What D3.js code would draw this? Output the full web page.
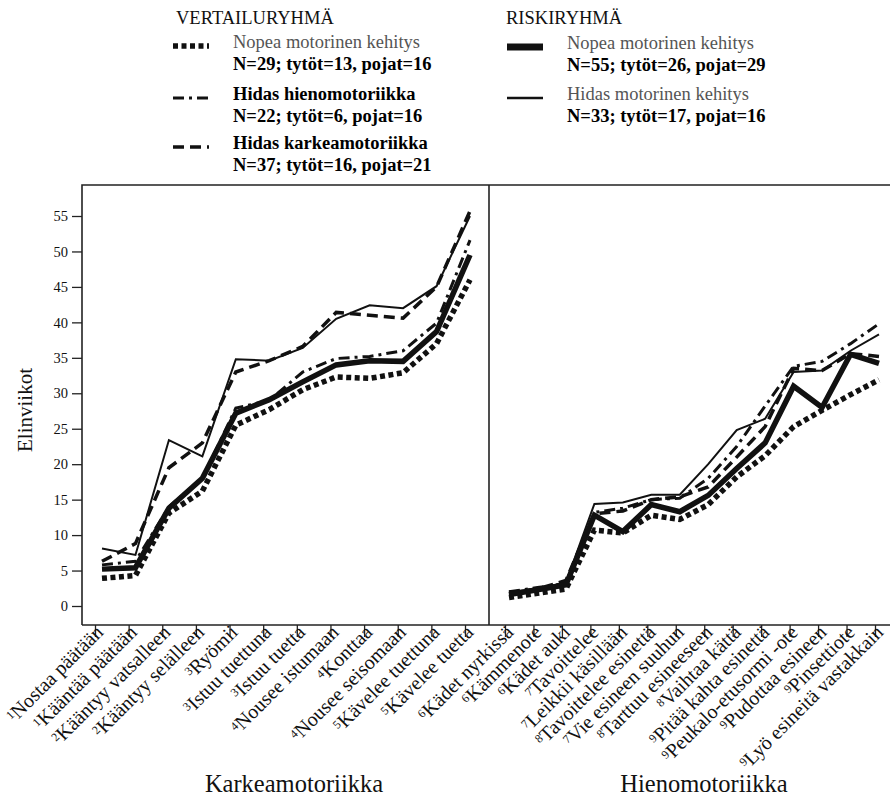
<!DOCTYPE html>
<html><head><meta charset="utf-8">
<script src="https://cdn.jsdelivr.net/npm/d3@7"></script>
<style>body{margin:0;background:#fff}svg text{font-family:"Liberation Serif","DejaVu Serif",serif;fill:#111}</style>
</head><body><svg id="c" width="890" height="800"></svg>
<script>
// ---- data ----
const grossSup = ["1","1","2","2","3","3","3","4","4","4","5","5"];
const grossCats = ["Nostaa päätään","Kääntää päätään","Kääntyy vatsalleen","Kääntyy selälleen","Ryömii","Istuu tuettuna","Istuu tuetta","Nousee istumaan","Konttaa","Nousee seisomaan","Kävelee tuettuna","Kävelee tuetta"];
const fineSup = ["6","6","6","7","7","8","7","8","8","9","9","9","9","9"];
const fineCats = ["Kädet nyrkissä","Kämmenote","Kädet auki","Tavoittelee","Leikkii käsillään","Tavoittelee esinettä","Vie esineen suuhun","Tarttuu esineeseen","Vaihtaa kättä","Pitää kahta esinettä","Peukalo-etusormi -ote","Pudottaa esineen","Pinsettiote","Lyö esineitä vastakkain"];
const yTicks = [0,5,10,15,20,25,30,35,40,45,50,55];

// Vertailuryhmä
const compFastGross = [3.9,4.3,13.1,16.2,25.5,27.7,30.5,32.3,32.1,32.9,37.0,46.0];
const compFastFine  = [1.2,1.8,2.4,10.7,10.3,12.8,12.2,14.3,18.2,21.2,25.3,27.6,29.8,31.9];
const compSlowFineGross = [5.8,6.3,14.0,18.0,27.9,29.0,33.0,34.9,35.2,36.0,39.9,51.6];
const compSlowFineFine  = [2.0,2.6,3.2,13.2,13.8,15.0,15.2,18.0,22.5,28.2,33.8,34.5,37.0,39.8];
const compSlowGrossGross = [6.3,8.8,19.5,23.0,33.0,34.6,36.6,41.4,41.0,40.6,45.0,55.7];
const compSlowGrossFine  = [1.9,2.4,3.6,13.0,13.4,15.0,15.4,16.8,21.0,25.3,33.5,33.2,35.6,35.2];
// Riskiryhmä
const riskFastGross = [5.2,5.4,13.8,18.0,27.2,29.1,31.6,34.0,34.6,34.5,38.7,49.5];
const riskFastFine  = [1.6,2.3,3.0,12.8,10.5,14.3,13.3,15.6,19.4,23.0,31.0,28.0,35.5,34.2];
const riskSlowGross = [8.1,7.2,23.4,21.1,34.8,34.6,36.4,40.5,42.4,42.0,45.1,55.0];
const riskSlowFine  = [2.0,2.4,3.3,14.4,14.6,15.7,15.7,20.0,24.8,26.4,33.0,33.2,36.0,38.3];

const styles = {
  dotted:{w:5.5,dash:"5,3.5"},
  dashdot:{w:3,dash:"11,5,3,5"},
  dashed:{w:3.5,dash:"11,6"},
  thick:{w:5.5,dash:null},
  thin:{w:2,dash:null}
};
const series = [
  {style:"dotted", gross:compFastGross, fine:compFastFine},
  {style:"dashdot", gross:compSlowFineGross, fine:compSlowFineFine},
  {style:"dashed", gross:compSlowGrossGross, fine:compSlowGrossFine},
  {style:"thin", gross:riskSlowGross, fine:riskSlowFine},
  {style:"thick", gross:riskFastGross, fine:riskFastFine}
];

const svg = d3.select("#c");
const fTop = 185, fBottom = 625, fLeft = 82, fMid = 489, fRight = 892;
const y = d3.scaleLinear().domain([0,55]).range([606,216]);
const xgData = d3.scalePoint().domain(grossCats).range([102,470]);
const xgTick = d3.scalePoint().domain(grossCats).range([95,465]);
const xfData = d3.scalePoint().domain(fineCats).range([509,879]);
const xfTick = d3.scalePoint().domain(fineCats).range([505,875]);

// frame
const fr = svg.append("g").attr("stroke","#222").attr("stroke-width",1.6).attr("fill","none");
fr.append("path").attr("d",`M${fLeft},${fBottom}V${fTop}H${fRight}`);
fr.append("path").attr("d",`M${fLeft},${fBottom}H${fRight}`);
fr.append("path").attr("d",`M${fMid},${fTop}V${fBottom}`);

// y axis
const ya = svg.append("g").attr("transform",`translate(${fLeft},0)`)
  .call(d3.axisLeft(y).tickValues(yTicks).tickSize(10).tickPadding(4));
ya.select(".domain").remove();
ya.selectAll("line").attr("stroke","#222").attr("stroke-width",1.3);
ya.selectAll("text").attr("font-size",14.5).attr("fill","#111");

// x axes
function xAxis(scale, sups){
  const g = svg.append("g").attr("transform",`translate(0,${fBottom})`)
    .call(d3.axisBottom(scale).tickSize(12).tickFormat(""));
  g.select(".domain").remove();
  g.selectAll("line").attr("stroke","#222").attr("stroke-width",1.3);
  scale.domain().forEach((c,i)=>{
    const t = g.append("text").attr("text-anchor","end").attr("font-size",20)
      .attr("transform",`translate(${scale(c)+8},7) rotate(-45)`).attr("dy","0.3em");
    t.append("tspan").attr("font-size",12).attr("dy","-0.25em").text(sups[i]);
    t.append("tspan").attr("dy","0.25em").text(c);
  });
}
xAxis(xgTick, grossSup);
xAxis(xfTick, fineSup);

// lines
function draw(xs, key){
  const line = d3.line().x((d,i)=>xs(xs.domain()[i])).y(d=>y(d));
  series.forEach(s=>{
    const st = styles[s.style];
    svg.append("path").datum(s[key]).attr("d",line).attr("fill","none")
      .attr("stroke","#111").attr("stroke-width",st.w)
      .attr("stroke-dasharray",st.dash).attr("stroke-linejoin","miter");
  });
}
draw(xgData,"gross");
draw(xfData,"fine");

// axis titles
svg.append("text").attr("transform","translate(32,410) rotate(-90)").attr("text-anchor","middle")
  .attr("font-size",21).text("Elinviikot");
svg.append("text").attr("x",294).attr("y",792).attr("text-anchor","middle").attr("font-size",24.5).text("Karkeamotoriikka");
svg.append("text").attr("x",704).attr("y",792).attr("text-anchor","middle").attr("font-size",24.5).text("Hienomotoriikka");

// legend
const lg = svg.append("g");
lg.append("text").attr("x",176).attr("y",24).attr("font-size",18.5).text("VERTAILURYHMÄ");
lg.append("text").attr("x",506).attr("y",24).attr("font-size",18.5).text("RISKIRYHMÄ");
const legendItems = [
  {style:"dotted", x:173, y:46, t1:"Nopea motorinen kehitys", t2:"N=29; tytöt=13, pojat=16", grey:true},
  {style:"dashdot", x:173, y:98, t1:"Hidas hienomotoriikka", t2:"N=22; tytöt=6, pojat=16", grey:false},
  {style:"dashed", x:173, y:147, t1:"Hidas karkeamotoriikka", t2:"N=37; tytöt=16, pojat=21", grey:false},
  {style:"thick", x:507, y:47, t1:"Nopea motorinen kehitys", t2:"N=55; tytöt=26, pojat=29", grey:true},
  {style:"thin", x:507, y:98, t1:"Hidas motorinen kehitys", t2:"N=33; tytöt=17, pojat=16", grey:true}
];
legendItems.forEach(it=>{
  const st = styles[it.style];
  lg.append("line").attr("x1",it.x).attr("x2",it.x+36).attr("y1",it.y).attr("y2",it.y)
    .attr("stroke","#111").attr("stroke-width",it.style==="thick"?7:it.style==="thin"?2.5:st.w)
    .attr("stroke-dasharray",st.dash);
  lg.append("text").attr("x",it.x+60).attr("y",it.y+2).attr("font-size",18.5)
    .attr("font-weight",it.grey?"normal":"bold")
    .style("fill",it.grey?"#555":"#000").text(it.t1);
  lg.append("text").attr("x",it.x+60).attr("y",it.y+24).attr("font-size",18.5)
    .style("fill","#000").attr("font-weight","bold").text(it.t2);
});
</script></body></html>
